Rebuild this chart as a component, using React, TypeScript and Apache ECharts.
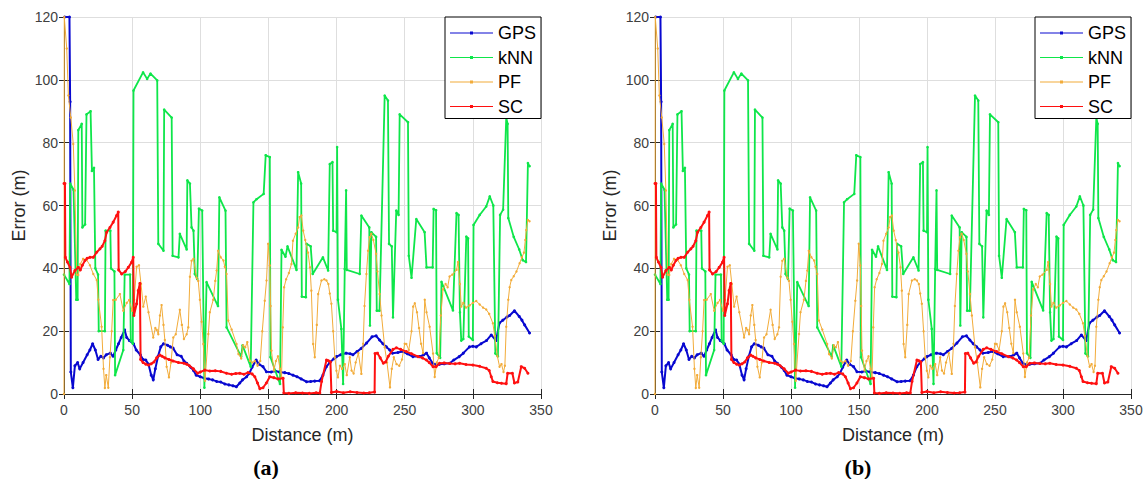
import React, { useEffect, useRef } from "react";
import * as echarts from "echarts";

const seriesNames = ["GPS", "kNN", "PF", "SC"];
const seriesColors = ["#0808d0", "#0ee64a", "#f2ac3a", "#ff1010"];
const seriesWidths = [2, 1.8, 1, 2];
const seriesSymbolSizes = [3, 2.6, 2.4, 3];

const xMin = 0;
const xMax = 350;
const xInterval = 50;
const yMin = 0;
const yMax = 120;
const yInterval = 20;
const panelLabels = ["(a)", "(b)"];
const xAxisTitle = "Distance (m)";
const yAxisTitle = "Error (m)";

const gpsData: number[][] = [
  [0.5, 120], [4, 120], [4.5, 93], [5, 7], [6.5, 2], [8, 9], [10, 10], [11.5, 8], [14, 10], [17, 12.5],
  [19, 14], [21, 16], [23, 14], [25, 11], [27, 12], [29, 11.5], [31, 12.5], [34, 13], [36, 12], [38, 14],
  [40, 16], [42, 18], [44.5, 20.4], [46, 18], [48, 17], [51, 16], [53, 14], [56, 12.5], [58, 11], [60, 10.8],
  [62, 9.5], [64, 6], [65.5, 4.5], [67, 8], [69, 12], [71, 15], [73, 16], [76, 15.5], [78, 15], [80, 14.6],
  [83, 12.5], [86, 12], [88, 10.5], [90, 9.8], [93, 8.5], [95, 7.5], [97, 6], [100, 5.5], [103, 5], [106, 4.8],
  [109, 4.5], [112, 4], [115, 3.8], [118, 3.2], [121, 2.9], [124, 2.6], [126.5, 2.3], [129, 3.5], [131, 4.5], [134, 5.5],
  [136, 6.6], [138, 8.5], [141, 10.8], [143, 9.5], [146, 8.7], [148.5, 7.1], [152, 7], [155, 7.3], [158, 7], [162, 6.8],
  [165, 6.5], [168, 6], [171, 5.5], [174, 4.8], [178, 3.9], [181, 4], [184, 4.1], [187.5, 4.2], [190, 6], [192.5, 8.7],
  [195, 10], [198, 11.2], [200, 11.9], [203, 12.5], [207, 13], [210, 12.8], [212, 12.5], [215, 13.5], [218, 14.5], [222, 16.2],
  [226, 18.2], [229, 18.5], [231.5, 17.2], [234, 16], [236.5, 15], [239, 14], [241, 13], [245, 13.2], [248.5, 13.5], [252, 12.8],
  [256, 11.9], [261, 11.9], [264, 12.5], [266, 13], [268, 11.5], [270.5, 9.8], [273, 9.3], [275.5, 9.5], [279, 9.6], [283, 9.8],
  [286, 10.8], [290, 11.9], [293, 13], [297.5, 15], [300, 15.2], [302.5, 15], [306, 16], [310, 17], [313.5, 18.8], [317, 17],
  [319.5, 22.6], [322, 23.5], [325, 24.5], [327, 25], [330.5, 26.5], [334, 24.7], [336, 23.5], [338, 22], [341.6, 19.4],
];

const knnData: number[][] = [
  [0, 38], [4, 35], [4.5, 67], [7, 65], [9, 30], [10, 30], [10.5, 84], [13, 86], [13.5, 53], [15.5, 54],
  [16.5, 89], [19.5, 90], [20.5, 71], [22, 72], [23, 40], [25, 38], [25.5, 20], [30, 20], [30.5, 52], [34, 52],
  [34.5, 40], [37, 39], [37.5, 6], [43.5, 14], [44.5, 38], [48.5, 38], [49, 17], [50.5, 16], [51, 96.6], [58, 102.4],
  [61, 100.3], [63.5, 102], [68.4, 99.8], [69.2, 47.8], [73, 45.6], [73.5, 90.5], [79, 88], [79.7, 44], [84, 43.5], [85, 51],
  [90, 46], [90.5, 68], [92.4, 67], [93.6, 53], [95, 52], [96, 38.2], [97.8, 36.6], [99, 59], [101.4, 58.4], [103, 2],
  [104.6, 35.6], [113, 28], [114, 62.6], [118.5, 58.4], [119.3, 21.2], [130, 11.9], [131, 15.5], [137, 8.7], [139, 61], [141.3, 62],
  [146.5, 63.7], [148, 76], [151, 75.4], [151.5, 11.7], [158.5, 3.2], [159.6, 45.9], [162.5, 43.7], [164, 47], [170.6, 39.5], [171.8, 70.6],
  [174, 67], [174.5, 31], [177.5, 30.8], [178, 47.8], [181, 47], [182.5, 38.2], [190, 43.5], [193.8, 39.3], [195, 73.2], [197, 73.8],
  [197.5, 52], [200, 51.5], [200.4, 78.6], [201, 30], [203.5, 20.7], [204.8, 3.2], [206, 39.8], [207, 64.8], [207.5, 39.5], [217, 38.2],
  [218.2, 56.8], [224, 53], [224.5, 21.8], [225.5, 51.5], [229, 50], [229.5, 26.5], [231.5, 26.5], [235.3, 95], [237.7, 93.4], [238.5, 47.8],
  [240.5, 47], [241.4, 24.4], [243.8, 58.4], [245.5, 57], [246.3, 89], [252.4, 86.5], [253, 44], [255, 37], [258.5, 55.7], [264.6, 51.5],
  [266, 40.3], [270.5, 40.3], [271.2, 58.9], [273, 58.5], [273.5, 13], [276, 11.5], [277, 35.7], [285.4, 26.6], [288, 57.6], [289.5, 57],
  [290.5, 26], [291.5, 17], [293, 17.5], [295.2, 50.1], [296.5, 49.5], [297, 18.3], [300, 17.2], [300.5, 53.8], [305, 57], [309.8, 59.7],
  [312.4, 62.9], [315, 60], [316.5, 12.9], [318.4, 12], [320, 57], [322.2, 58.7], [324.5, 88], [325.5, 86], [326, 56], [330, 50],
  [334, 46], [336.6, 42.6], [339, 42], [340.4, 73.5], [341.6, 72.5],
];

const pfData: number[][] = [
  [0, 0], [0.2, 120], [2, 110], [3.2, 95], [5, 88], [6.8, 79.6], [8, 64.8], [9.3, 38], [10.5, 37.9], [12, 41.4],
  [14, 43], [16.6, 42.7], [19, 41], [21.5, 38.2], [24, 36.3], [25.2, 30], [27.6, 21.4], [29, 8], [30, 1.9], [31, 6],
  [32.5, 2], [33.7, 11.7], [35, 20], [36.1, 29.9], [38, 30], [41, 31.8], [43.5, 26.5], [46, 29], [47.8, 29.9], [50, 26.5],
  [51.5, 30], [53.3, 40.5], [55, 41], [56.5, 35], [58.2, 27.8], [60, 31], [62, 26], [65.5, 18], [67, 21], [68, 20.4],
  [69.2, 19], [70.4, 25], [71.6, 28.3], [73, 22], [74, 17.2], [75.3, 8.7], [77, 5.3], [78.5, 10], [80.2, 18], [82, 19],
  [85, 26.8], [86.5, 22], [88, 17.5], [90, 19], [91.2, 21.2], [92.4, 37.3], [93.6, 42.4], [95, 43], [97.3, 37], [98.5, 36],
  [99.7, 30], [101, 23], [102.2, 15.9], [103.5, 4.2], [105.9, 19.1], [107, 26], [109.5, 30], [111, 36], [112, 39.3], [113.1, 45.6],
  [115, 43.5], [117, 42.5], [118, 40.5], [119.3, 38.2], [120.5, 23.4], [123, 20.5], [126.6, 15.9], [128, 12.7], [130, 11.3], [131.5, 15.5],
  [133, 14.9], [134.5, 16.5], [136.4, 10.6], [138, 10], [140, 10.5], [142, 9], [144, 10.5], [145.5, 20], [147.3, 29.7], [148.6, 36.1],
  [149.8, 47.8], [151, 40.9], [151.6, 28], [152.2, 13.8], [154, 7.5], [155.5, 10.5], [157, 12], [158.5, 8], [159.6, 5.3], [160.5, 21.2],
  [161.5, 34], [163, 36.5], [165, 38.5], [166.9, 41.4], [168, 48.8], [170, 51], [171.8, 53], [172.9, 56.3], [174.2, 56.8], [175.5, 52],
  [177, 49], [179, 45], [180.5, 40.3], [181.5, 32.9], [182.8, 15.9], [184, 11.7], [185.5, 22], [186.5, 31.8], [188.9, 36.1], [191, 36.5],
  [192.6, 36.1], [194, 35], [195, 32], [196.2, 28.7], [197.5, 20], [198.7, 11.7], [199.9, 7.4], [201, 5.3], [202.5, 9], [204, 8],
  [206, 9.5], [207.5, 6], [209.7, 11.7], [211, 7.5], [212.5, 6.5], [214, 10], [216, 13], [218.2, 6.4], [219.5, 16], [220.5, 28],
  [221.9, 38.2], [223.1, 45.6], [224.3, 49.9], [225.5, 51], [227, 49], [229, 44.6], [230, 39], [231.6, 31.8], [233, 25], [235.3, 14.9],
  [237, 10], [239.2, 2.1], [240.5, 8], [242, 11.7], [244, 9.5], [246, 9], [248, 11], [250, 16], [251.2, 15.9], [253, 14],
  [255, 20], [256.2, 27.8], [257.4, 28.9], [259, 26], [260.5, 21], [262, 16], [263.5, 13], [264.7, 30], [266, 26], [268.3, 21.4],
  [270.8, 12.9], [272, 5.4], [273.5, 10], [275, 11.5], [276.5, 25], [278.1, 33.3], [280, 35], [281.5, 34], [282.9, 37.4], [285, 38],
  [288, 39.5], [289.1, 42], [290.5, 35], [291.5, 27.8], [293, 29], [295, 27.5], [297.6, 28.2], [300, 29], [302.5, 29.6], [305, 28.5],
  [307.5, 27.5], [309.8, 26.9], [312, 25.5], [314.7, 22.5], [316, 18.5], [318, 12], [319.6, 8.7], [321, 9.5], [322.5, 7], [323.5, 9],
  [324.5, 21.4], [326, 30], [327, 34], [328.2, 36.3], [330, 37.5], [332, 39], [334.3, 41.6], [336, 43.5], [337.5, 45], [338.5, 49],
  [339.2, 52.2], [340.4, 55.4], [341.6, 55],
];

const scData: number[][] = [
  [0, 67], [0.7, 67], [1, 43.5], [2.5, 42], [4.4, 40.3], [5.6, 37.2], [8, 39.3], [10.5, 40.3], [12, 39.5], [13.5, 41],
  [15.4, 42.5], [17, 43.2], [19.1, 43.5], [21.5, 43.5], [24, 45.1], [26.4, 46.2], [28, 47], [30, 48.8], [31.3, 51.5], [33.7, 53],
  [36.1, 54.7], [38.6, 56.8], [39.8, 57.9], [40.1, 39.5], [42.3, 38.2], [45, 39], [47.2, 40.3], [49.6, 41.9], [50.8, 43.5], [51.3, 25],
  [53.3, 28.7], [54.5, 32.9], [55.7, 35.2], [56.2, 11], [58, 10], [60, 9.5], [62, 9.2], [64, 9.6], [66, 10.2], [68, 11.5],
  [70.4, 12.4], [72, 12], [74, 11.5], [77, 11], [80, 10.5], [84, 10], [88, 9.8], [90, 9.5], [92, 9], [95, 8],
  [98, 6.6], [100, 7], [103.3, 7.6], [107, 7.3], [111, 7.4], [115, 7.2], [119.2, 6.6], [123, 6.3], [126, 6.5], [129, 6.6],
  [132, 6.3], [135, 6.8], [138, 6.4], [140, 5.5], [142, 3.5], [143.7, 1.7], [146, 2], [148.5, 3.5], [151, 5.5], [154, 5.2],
  [157, 4.8], [160.8, 5], [161.3, 0.3], [165, 0.2], [170, 0.4], [175, 0.3], [180, 0.2], [185, 0.4], [187.7, 0.3], [189, 4],
  [192.6, 10.8], [194, 10.6], [195.5, 10.2], [196.2, 0.5], [200, 0.8], [205, 0.4], [210, 0.7], [215, 0.5], [220, 0.3], [224, 0.4],
  [227.9, 0.6], [228.2, 12.9], [230, 13], [232, 11.5], [234.3, 9.8], [236, 10.2], [238, 12], [241.4, 14.2], [243.9, 14.7], [247, 14.2],
  [251.2, 13.5], [255, 12.8], [259.8, 11.9], [263, 11.5], [265.9, 10.8], [268, 10], [270.8, 8.7], [273, 8.7], [275.6, 9.8], [279, 9.9],
  [283, 9.7], [287, 9.6], [290.3, 9.8], [295, 9.4], [300, 9.2], [305, 8.8], [309.8, 8.2], [312, 7.5], [313.5, 5.5], [314.7, 4],
  [318, 3.6], [321, 3.4], [324.5, 3.3], [325.5, 6.6], [329, 6.6], [330.5, 3.5], [333, 3.8], [335.5, 8.7], [338, 8.2], [340.4, 6.6],
];

const allSeriesData = [gpsData, knnData, pfData, scData];

export default function App() {
  const ref = useRef<HTMLDivElement>(null);

  useEffect(() => {
    if (!ref.current) return;
    const chart = echarts.init(ref.current, null, { renderer: "svg" });
    const font = "'Liberation Sans', Arial, sans-serif";
    const axisColor = "#262626";
    const panels = [
      { left: 64, width: 477, legendLeft: 445, labelX: 266 },
      { left: 655, width: 476, legendLeft: 1035, labelX: 858 },
    ];

    const grids: any[] = [];
    const xAxes: any[] = [];
    const yAxes: any[] = [];
    const series: any[] = [];
    const legends: any[] = [];
    const graphics: any[] = [];

    panels.forEach((p, pi) => {
      grids.push({ left: p.left, top: 17, width: p.width, height: 377, containLabel: false });
      xAxes.push({
        type: "value", gridIndex: pi, min: xMin, max: xMax, interval: xInterval,
        name: xAxisTitle, nameLocation: "middle", nameGap: 32,
        nameTextStyle: { fontSize: 18, color: axisColor, fontFamily: font },
        axisLine: { show: true, lineStyle: { color: axisColor, width: 1 } },
        axisTick: { show: true, inside: true, length: 5, lineStyle: { color: axisColor } },
        axisLabel: { fontSize: 14, color: "#404040", margin: 9, fontFamily: font },
        splitLine: { show: true, lineStyle: { color: "#dedede", width: 1 } },
      });
      xAxes.push({
        type: "value", gridIndex: pi, position: "top", min: xMin, max: xMax, interval: xInterval,
        axisLine: { show: true, lineStyle: { color: axisColor, width: 1 } },
        axisTick: { show: true, inside: true, length: 5, lineStyle: { color: axisColor } },
        axisLabel: { show: false }, splitLine: { show: false },
      });
      yAxes.push({
        type: "value", gridIndex: pi, min: yMin, max: yMax, interval: yInterval,
        name: yAxisTitle, nameLocation: "middle", nameGap: 36,
        nameTextStyle: { fontSize: 18, color: axisColor, fontFamily: font },
        axisLine: { show: true, lineStyle: { color: axisColor, width: 1 } },
        axisTick: { show: true, inside: true, length: 5, lineStyle: { color: axisColor } },
        axisLabel: { fontSize: 14, color: "#404040", margin: 6, fontFamily: font },
        splitLine: { show: true, lineStyle: { color: "#dedede", width: 1 } },
      });
      yAxes.push({
        type: "value", gridIndex: pi, position: "right", min: yMin, max: yMax, interval: yInterval,
        axisLine: { show: true, lineStyle: { color: axisColor, width: 1 } },
        axisTick: { show: true, inside: true, length: 5, lineStyle: { color: axisColor } },
        axisLabel: { show: false }, splitLine: { show: false },
      });

      seriesNames.forEach((name, si) => {
        series.push({
          type: "line", name, xAxisIndex: pi * 2, yAxisIndex: pi * 2,
          data: allSeriesData[si],
          showSymbol: true, symbol: "circle", symbolSize: seriesSymbolSizes[si],
          itemStyle: { color: seriesColors[si] },
          lineStyle: { color: seriesColors[si], width: seriesWidths[si] },
          emphasis: { disabled: true },
          z: 2 + si,
        });
      });

      legends.push({
        show: true, orient: "vertical", left: p.legendLeft, top: 17,
        padding: [7, 5, 3, 5], itemGap: 6.5, itemWidth: 43, itemHeight: 3,
        backgroundColor: "#ffffff", borderColor: "#000000", borderWidth: 1,
        textStyle: { fontSize: 18, color: "#000", fontFamily: font },
        data: seriesNames.map((n, si) => ({
          name: n,
          icon: "path://M0,1 H43 V2 H0 Z M20,0 H23 V3 H20 Z",
          itemStyle: { color: seriesColors[si] },
        })),
        selectedMode: false,
      });

      graphics.push({
        type: "text", x: p.labelX, y: 467,
        style: {
          text: panelLabels[pi], font: "bold 22px 'Liberation Serif', 'DejaVu Serif', serif",
          fill: "#000", align: "center", verticalAlign: "middle",
        },
      });
    });

    chart.setOption({
      animation: false,
      backgroundColor: "#ffffff",
      grid: grids,
      xAxis: xAxes,
      yAxis: yAxes,
      legend: legends,
      series,
      graphic: graphics,
    });
    return () => chart.dispose();
  }, []);

  return (
    <div
      ref={ref}
      style={{ position: "absolute", left: 0, top: 0, width: 1146, height: 479, background: "#fff" }}
    />
  );
}
